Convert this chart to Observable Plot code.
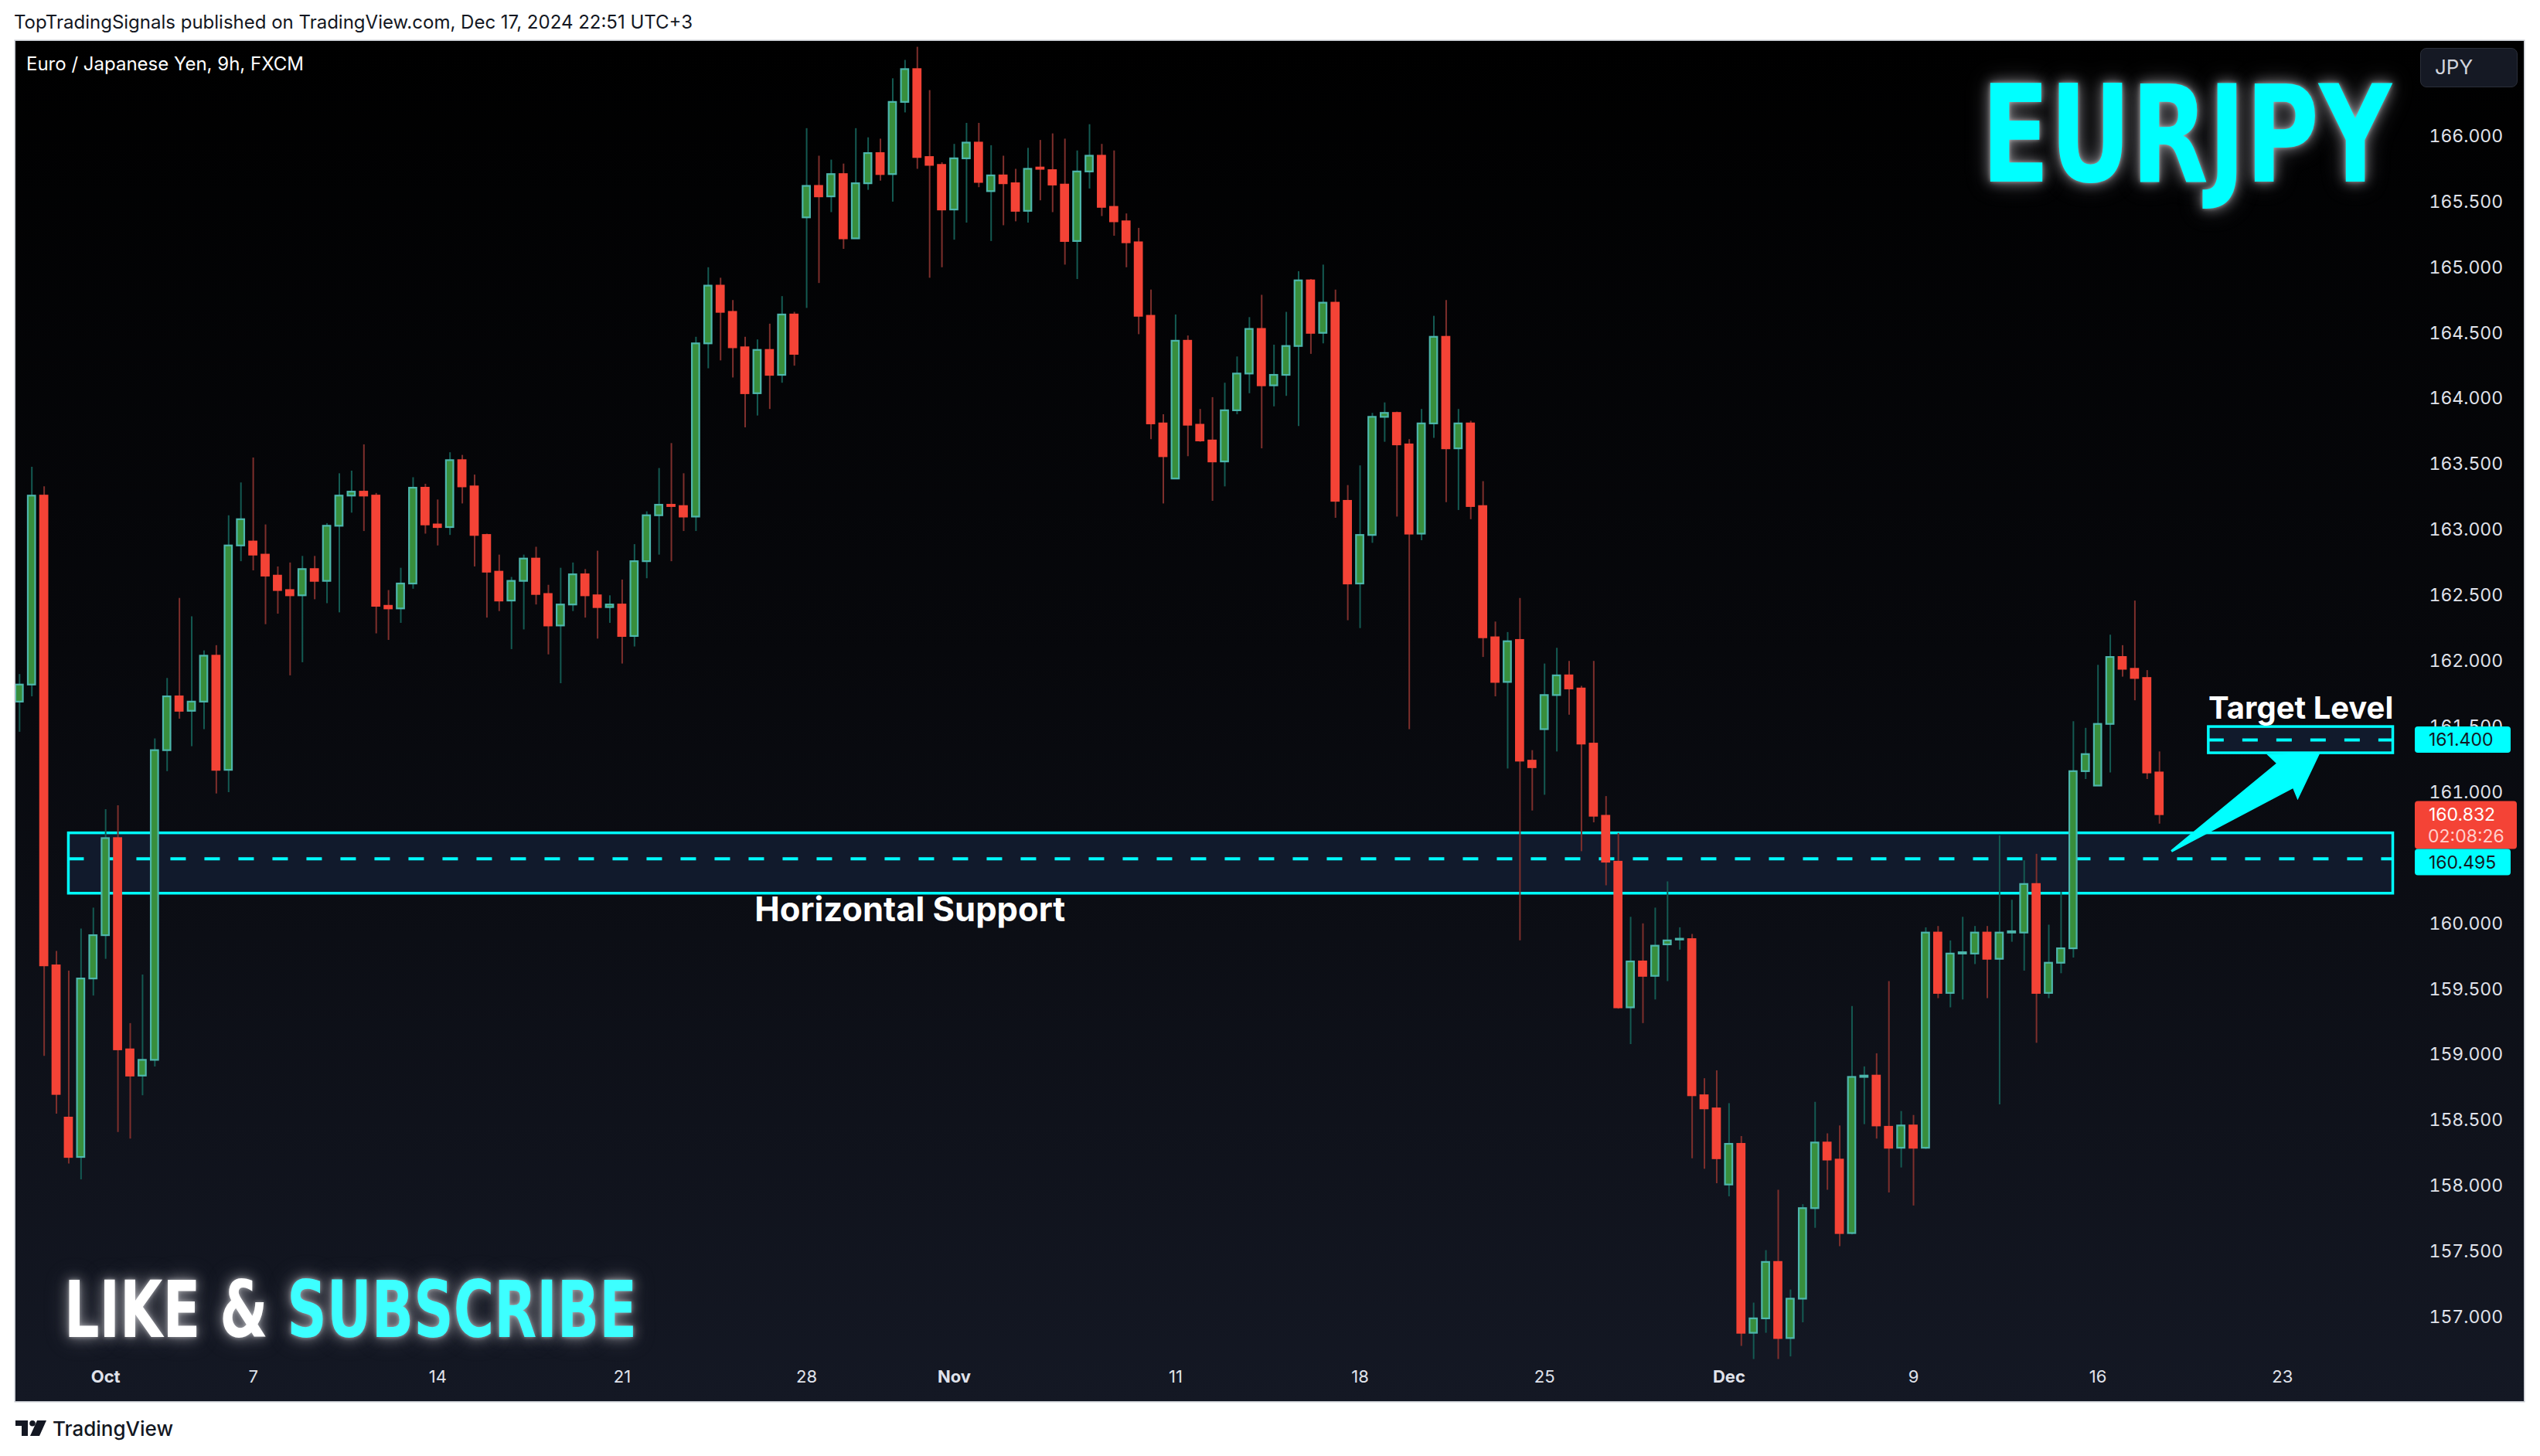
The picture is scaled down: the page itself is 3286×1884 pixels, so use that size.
<!DOCTYPE html>
<html>
<head>
<meta charset="utf-8">
<script src="https://cdn.jsdelivr.net/npm/d3@7"></script>
<script src="https://cdn.jsdelivr.net/npm/@observablehq/plot@0.6"></script>
<style>
html,body{margin:0;padding:0;background:#ffffff;}
body{width:3286px;height:1884px;position:relative;overflow:hidden;font-family:Inter,"Noto Sans",sans-serif;}
#hdr{position:absolute;left:18px;top:17px;font-size:24px;line-height:1;color:#131722;white-space:nowrap;}
#panel{position:absolute;left:20px;top:53px;width:3245px;height:1760px;
  background:linear-gradient(to bottom,#000000 0%,#07080c 45%,#141824 100%);
  box-shadow:0 0 0 1.5px #c4c7ce;overflow:hidden;}
#panel svg{position:absolute;left:0;top:0;}
#legend{position:absolute;left:14px;top:18px;font-size:24px;line-height:1;color:#ffffff;white-space:nowrap;z-index:3;}
.glow{position:absolute;font-family:"Liberation Sans Narrow","DejaVu Sans Condensed","DejaVu Sans",sans-serif;font-stretch:condensed;
  font-weight:700;line-height:1;white-space:nowrap;transform-origin:0 0;z-index:4;
  text-shadow:0 0 6px rgba(255,255,255,0.45),0 0 18px rgba(200,200,205,0.6),0 0 34px rgba(150,150,160,0.45);}
#jpy{position:absolute;left:3111px;top:9px;width:126px;height:51px;box-sizing:border-box;border:1.5px solid #2a2e39;
  border-radius:8px;background:#151924;color:#d1d4dc;font-size:26px;line-height:48px;padding-left:18px;z-index:3;}
#footer{position:absolute;left:20px;top:1836px;height:26px;}
#footer svg{position:absolute;left:0;top:2px;}
#footer span{position:absolute;left:48px;top:0;font-size:26px;line-height:1;font-weight:500;color:#131722;white-space:nowrap;}
</style>
</head>
<body>
<div id="hdr">TopTradingSignals published on TradingView.com, Dec 17, 2024 22:51 UTC+3</div>
<div id="panel">
  <div id="legend">Euro / Japanese Yen, 9h, FXCM</div>
  <div id="jpy">JPY</div>
  <div class="glow fit" data-w="531" style="left:2543px;top:34px;font-size:175px;color:#00ffff;">EURJPY</div>
  <div class="glow fit" data-w="741" style="left:63px;top:1591px;font-size:102px;"><span style="color:#ffffff">LIKE &amp; </span><span style="color:#3dffff">SUBSCRIBE</span></div>
</div>
<div id="footer">
  <svg width="42" height="22" viewBox="0 0 42 22">
    <path d="M0 0H16V20H8V7H0Z" fill="#131722"/>
    <circle cx="22" cy="3.8" r="3.8" fill="#131722"/>
    <path d="M28 0H40L31 20H19Z" fill="#131722"/>
  </svg>
  <span>TradingView</span>
</div>
<script>
// ---------- data (EURJPY, 9h candles, index 0 = first bar on screen) ----------
const opens = [
161.69,161.82,163.26,159.68,158.52,158.22,159.58,159.91,160.65,159.04,
158.84,158.96,161.32,161.73,161.62,161.69,162.04,161.17,162.88,162.91,
162.81,162.65,162.54,162.50,162.70,162.61,163.03,163.26,163.29,163.26,
162.42,162.40,162.59,163.32,163.04,163.02,163.53,163.33,162.96,162.68,
162.46,162.61,162.78,162.51,162.27,162.43,162.66,162.50,162.41,162.43,
162.19,162.76,163.11,163.19,163.18,163.10,164.42,164.86,164.66,164.39,
164.04,164.37,164.18,164.64,165.38,165.62,165.54,165.71,165.22,165.64,
165.87,165.71,166.26,166.51,165.84,165.78,165.44,165.83,165.95,165.58,
165.70,165.64,165.43,165.76,165.74,165.63,165.20,165.73,165.85,165.46,
165.35,165.19,164.63,163.81,163.39,164.44,163.80,163.68,163.52,163.91,
164.19,164.53,164.10,164.18,164.40,164.90,164.50,164.73,163.22,162.59,
162.96,163.86,163.89,163.65,162.97,163.81,164.47,163.62,163.81,163.18,
162.18,161.84,162.16,161.24,161.48,161.74,161.89,161.79,161.37,160.82,
160.47,159.36,159.71,159.60,159.84,159.88,159.88,158.69,158.59,158.01,
158.32,156.88,156.99,157.42,156.84,157.14,157.83,158.33,158.20,157.64,
158.83,158.84,158.45,158.29,158.46,158.29,159.93,159.47,159.77,159.77,
159.93,159.73,159.93,159.93,160.30,159.47,159.70,159.81,161.16,161.05,
161.52,162.03,161.94,161.87,161.15];
const highs = [
161.90,163.48,163.33,159.79,159.64,159.96,160.12,160.87,160.90,159.24,
159.61,161.41,161.87,162.48,162.34,162.08,162.12,163.11,163.36,163.55,
163.04,162.72,162.75,162.80,162.80,163.05,163.43,163.45,163.65,163.28,
162.54,162.71,163.40,163.35,163.23,163.59,163.57,163.42,162.97,162.81,
162.64,162.81,162.87,162.58,162.71,162.75,162.70,162.84,162.50,162.62,
162.89,163.14,163.47,163.66,163.43,164.47,165.00,164.92,164.75,164.47,
164.45,164.57,164.78,164.66,166.06,165.85,165.82,165.79,166.06,165.99,
165.98,166.44,166.58,166.68,166.35,165.80,165.94,166.10,166.10,165.93,
165.85,165.75,165.91,165.97,166.02,165.98,165.89,166.09,165.94,165.89,
165.41,165.30,164.83,163.88,164.64,164.48,163.92,164.01,164.12,164.32,
164.62,164.79,164.41,164.66,164.97,164.91,165.02,164.83,163.34,163.49,
163.89,163.97,163.90,163.69,163.92,164.63,164.75,163.92,163.83,163.37,
162.30,162.22,162.48,161.32,161.98,162.10,162.00,161.81,162.00,160.97,
160.69,160.05,160.00,160.12,160.32,159.97,159.92,158.82,158.88,158.63,
158.38,157.11,157.51,157.97,157.21,157.86,158.64,158.40,158.46,159.37,
158.91,159.01,159.56,158.57,158.54,159.97,159.98,159.87,160.05,159.98,
159.98,160.67,160.18,160.48,160.53,159.99,160.24,161.54,161.49,161.97,
162.20,162.12,162.46,161.93,161.31];
const lows = [
161.46,161.73,158.99,158.55,158.17,158.05,159.45,159.73,158.41,158.36,
158.69,158.91,161.16,161.56,161.35,161.48,160.99,161.00,162.76,162.69,
162.28,162.36,161.89,161.99,162.47,162.44,162.37,163.13,162.99,162.21,
162.16,162.29,162.55,162.97,162.88,162.96,163.20,162.72,162.33,162.38,
162.09,162.24,162.43,162.05,161.83,162.38,162.33,162.17,162.29,161.98,
162.11,162.63,162.81,162.76,162.99,162.99,164.23,164.29,164.16,163.78,
163.87,163.92,164.12,164.25,164.69,164.88,165.42,165.14,165.22,165.59,
165.66,165.50,166.18,165.75,164.92,165.00,165.21,165.34,165.61,165.20,
165.32,165.35,165.34,165.51,165.42,165.02,164.91,165.60,165.39,165.24,
165.00,164.49,163.69,163.20,163.39,163.56,163.67,163.22,163.33,163.88,
164.04,163.62,163.94,164.02,163.79,164.34,164.42,163.09,162.31,162.25,
162.90,163.67,163.10,161.48,162.92,163.70,163.21,163.15,163.08,162.03,
161.73,161.18,159.87,160.86,160.98,161.31,161.59,160.55,160.77,160.29,
159.35,159.08,159.24,159.42,159.56,159.80,158.21,158.13,158.02,157.92,
156.78,156.68,156.88,156.68,156.70,156.96,157.68,157.97,157.54,157.63,
158.47,158.36,157.95,158.14,157.85,158.28,159.43,159.36,159.42,159.69,
159.43,158.62,159.86,159.64,159.09,159.43,159.62,159.74,161.10,161.05,
161.15,161.88,161.70,161.10,160.76];
const closes = [
161.82,163.26,159.68,158.70,158.22,159.58,159.91,160.65,159.04,158.84,
158.96,161.32,161.73,161.62,161.69,162.04,161.17,162.88,163.08,162.81,
162.65,162.54,162.50,162.70,162.61,163.03,163.26,163.29,163.26,162.42,
162.40,162.59,163.32,163.04,163.02,163.53,163.33,162.96,162.68,162.46,
162.61,162.78,162.51,162.27,162.43,162.66,162.50,162.41,162.43,162.19,
162.76,163.11,163.19,163.18,163.10,164.42,164.86,164.66,164.39,164.04,
164.37,164.18,164.64,164.34,165.62,165.54,165.71,165.22,165.64,165.87,
165.71,166.26,166.51,165.84,165.78,165.44,165.83,165.95,165.65,165.70,
165.64,165.43,165.75,165.75,165.63,165.20,165.73,165.85,165.46,165.35,
165.19,164.63,163.81,163.56,164.44,163.80,163.68,163.52,163.91,164.19,
164.53,164.10,164.18,164.40,164.90,164.50,164.73,163.22,162.59,162.96,
163.86,163.89,163.65,162.97,163.81,164.47,163.62,163.81,163.18,162.18,
161.84,162.15,161.24,161.19,161.74,161.89,161.79,161.37,160.82,160.47,
159.36,159.71,159.60,159.83,159.87,159.88,158.69,158.59,158.21,158.32,
156.88,156.99,157.42,156.84,157.14,157.83,158.33,158.20,157.64,158.83,
158.84,158.46,158.29,158.46,158.29,159.93,159.47,159.77,159.78,159.93,
159.73,159.93,159.94,160.30,159.47,159.70,159.81,161.16,161.29,161.52,
162.03,161.94,161.87,161.15,160.832];

// time axis: bar index of each labelled day
const tickIdx    = [7, 19, 34, 49, 64, 76, 94, 109, 124, 139, 154, 169, 184];
const tickLabels = ["Oct","7","14","21","28","Nov","11","18","25","Dec","9","16","23"];
const tickMonth  = [true,false,false,false,false,true,false,false,false,true,false,false,false];

// price axis ticks (160.500 is covered by the 160.495 tag on the reference scale)
const yTicks = [157,157.5,158,158.5,159,159.5,160,161,161.5,162,162.5,163,163.5,164,164.5,165,165.5,166];

// drawn levels (zone from bar index to bar index)
const levelNames  = ["Horizontal Support", "Target Level"];
const levelPrices = [160.495, 161.400];
const levelLow    = [160.23, 161.30];
const levelHigh   = [160.69, 161.50];
const levelFrom   = [4, 178];
const levelTo     = [193, 193];

// right-scale price tags
const tagPrices = [161.400, 160.832, 160.495];
const tagLabels = ["161.400", "160.832", "160.495"];
const tagSub    = [null, "02:08:26", null];
const tagKind   = ["level", "last", "level"];

// arrow from support toward target (bar index, price)
const arrowIdx   = [175.0, 187.1];
const arrowPrice = [160.55, 161.30];

// ---------- build tables ----------
const candles = opens.map((o, k) => ({
  i: k, open: o, high: highs[k], low: lows[k], close: closes[k], up: closes[k] >= o
}));
const levels = levelNames.map((n, k) => ({
  name: n, price: levelPrices[k], lo: levelLow[k], hi: levelHigh[k], from: levelFrom[k], to: levelTo[k]
}));
const ticks = tickIdx.map((v, k) => ({i: v, label: tickLabels[k], month: tickMonth[k]}));

const W = 3245, H = 1760, MR = 148, MB = 50;
const GREEN = "#388e3c", GREEN_EDGE = "#4db6ac", GREEN_WICK = "#145a52";
const RED = "#f44336", RED_WICK = "#7e2f2c";
const CYAN = "#00ffff";

const bodyLo = d => { const a = Math.min(d.open, d.close), b = Math.max(d.open, d.close); return b - a < 0.006 ? (a + b) / 2 - 0.003 : a; };
const bodyHi = d => { const a = Math.min(d.open, d.close), b = Math.max(d.open, d.close); return b - a < 0.006 ? (a + b) / 2 + 0.003 : b; };

const chart = Plot.plot({
  width: W, height: H,
  marginLeft: 0, marginRight: MR, marginTop: 0, marginBottom: MB,
  style: {background: "transparent", color: "#e0e3eb", fontFamily: "Inter, 'Noto Sans', sans-serif", fontSize: "23px", overflow: "visible"},
  x: {domain: [-0.302, 194.35], axis: null},
  y: {domain: [156.6537, 166.7244], axis: "right", ticks: yTicks, tickFormat: d3.format(".3f"), tickSize: 0, tickPadding: 25, label: null},
  color: {type: "identity"},
  marks: [
    Plot.rect(levels, {x1: "from", x2: "to", y1: "lo", y2: "hi", fill: "#111a2c", stroke: CYAN, strokeWidth: 3.5}),
    Plot.ruleY(levels, {y: "price", x1: "from", x2: "to", stroke: CYAN, strokeWidth: 4, strokeDasharray: "20,24"}),
    Plot.ruleX(candles, {x: "i", y1: "low", y2: "high", stroke: d => d.up ? GREEN_WICK : RED_WICK, strokeWidth: 2}),
    Plot.rect(candles, {
      x1: d => d.i - 0.30, x2: d => d.i + 0.30, y1: bodyLo, y2: bodyHi,
      fill: d => d.up ? GREEN : RED, stroke: d => d.up ? GREEN_EDGE : RED, strokeWidth: 2.2
    }),
    Plot.text([levels[0]], {x: () => 72.4, y: d => d.lo - 0.13, text: "name", fill: "#ffffff", fontSize: 43.5, fontWeight: 700}),
    Plot.text([levels[1]], {x: d => (d.from + d.to) / 2, y: d => d.hi + 0.14, text: "name", fill: "#ffffff", fontSize: 40, fontWeight: 700}),
    Plot.text(ticks.filter(t => t.month), {x: "i", text: "label", frameAnchor: "bottom", dy: 25, fontWeight: 700, fontSize: 22, fill: "#e0e3eb"}),
    Plot.text(ticks.filter(t => !t.month), {x: "i", text: "label", frameAnchor: "bottom", dy: 25, fontSize: 22, fill: "#e0e3eb"})
  ]
});
document.getElementById("panel").prepend(chart);

// ---------- scale-driven annotations (arrow + price tags) ----------
const scaleFn = name => {
  const s = chart.scale(name);
  return s.apply ? (v => s.apply(v)) : d3.scaleLinear(s.domain, s.range);
};
const X = scaleFn("x"), Y = scaleFn("y");
const svg = d3.select(chart);

{
  const x0 = X(arrowIdx[0]), y0 = Y(arrowPrice[0]), x1 = X(arrowIdx[1]), y1 = Y(arrowPrice[1]);
  const L = Math.hypot(x1 - x0, y1 - y0), ux = (x1 - x0) / L, uy = (y1 - y0) / L, nx = -uy, ny = ux;
  const pt = (a, p) => [x0 + ux * a * L + nx * p, y0 + uy * a * L + ny * p];
  const poly = [pt(0, -1.5), pt(0.762, -20), pt(0.745, -37), pt(1, 0), pt(0.748, 35), pt(0.762, 19), pt(0, 1.5)];
  svg.append("polygon").attr("points", poly.map(p => p.join(",")).join(" ")).attr("fill", CYAN);
}

{
  const frameR = W - MR;
  let prevBottom = -Infinity;
  tagPrices.map((p, k) => ({price: p, label: tagLabels[k], sub: tagSub[k], kind: tagKind[k], y: Y(p)}))
    .sort((a, b) => a.y - b.y)
    .forEach(t => {
      const h = t.sub ? 62 : 34, w = t.sub ? 132 : 124;
      let top = t.y - 17;
      if (top < prevBottom) top = prevBottom;
      prevBottom = top + h;
      const g = svg.append("g")
        .attr("font-family", "Inter, 'Noto Sans', sans-serif")
        .attr("font-size", 23)
        .attr("text-anchor", "start");
      g.append("rect").attr("x", frameR + 7).attr("y", top).attr("width", w).attr("height", h).attr("rx", 4)
        .attr("fill", t.kind === "last" ? RED : CYAN);
      g.append("text").attr("x", frameR + 25).attr("y", top + 17).attr("dy", "0.36em")
        .attr("text-anchor", "start")
        .attr("fill", t.kind === "last" ? "#ffffff" : "#131722").text(t.label);
      if (t.sub) g.append("text").attr("x", frameR + 24).attr("y", top + 45).attr("dy", "0.36em")
        .attr("text-anchor", "start")
        .attr("fill", "#ffd0cc").text(t.sub);
    });
}

// fit the condensed glow captions to their widths
document.querySelectorAll(".fit").forEach(el => {
  const w = el.getBoundingClientRect().width;
  el.style.transform = `scaleX(${(+el.dataset.w) / w})`;
});
</script>
</body>
</html>
